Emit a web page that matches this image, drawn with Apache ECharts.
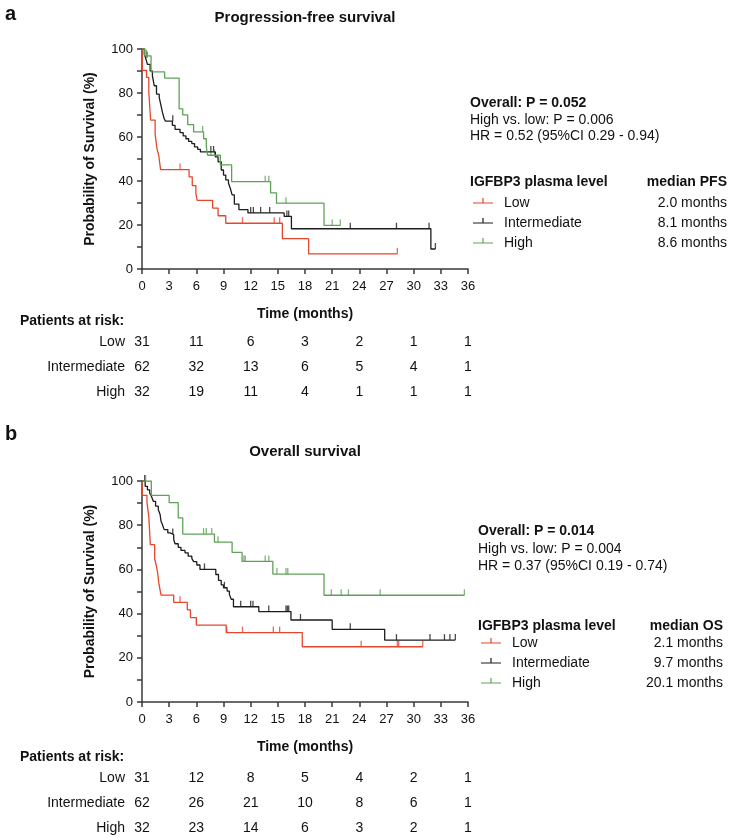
<!DOCTYPE html>
<html><head><meta charset="utf-8">
<script src="https://cdn.jsdelivr.net/npm/echarts@6/dist/echarts.min.js"></script>
<style>html,body{margin:0;padding:0;background:#fff}#c{width:729px;height:838px}</style>
</head><body><div id="c"></div>
<script>
// ---------- data ----------
const groups = ['Low', 'Intermediate', 'High'];
const riskMonths = [0, 6, 12, 18, 24, 30, 36];

// Panel a: progression-free survival, step points [month, survival %]
const pfsLow = [[0,100],[0.05,90.3],[0.5,87.1],[0.75,80.6],[0.95,67.7],[1.45,61.3],[1.65,54.8],[1.85,51.6],[2.05,45.2],[5.2,41.9],[5.55,37.9],[5.95,34.1],[6.1,31.2],[7.8,27.7],[8.4,24.2],[9.25,20.8],[15.5,13.8],[18.4,6.9],[28.2,6.9]];
const pfsLowCens = [[4.2,45.2],[11.1,20.8],[14.6,20.8],[15.2,20.8],[28.2,6.9]];
const pfsMid = [[0,100],[0.25,97.5],[0.4,96],[0.6,93],[0.9,90],[1.15,87.8],[1.35,83.3],[1.6,79.5],[1.9,78],[2.1,74.3],[2.25,71.3],[2.45,68.3],[2.6,67.2],[3.35,65.3],[3.65,63.5],[4.2,62],[4.55,60.5],[4.85,59.2],[5.15,58],[5.5,57],[5.8,55.5],[6.15,54.4],[6.45,53.2],[8.1,51],[8.4,48.7],[8.75,45],[9.0,42.7],[9.25,40.5],[9.55,39],[9.75,36.7],[9.95,33.7],[10.2,29.5],[10.7,27],[11.7,25.5],[15.7,23.9],[16.5,18.3],[31.9,9.1],[32.4,9.1]];
const pfsMidCens = [[0.3,97.5],[0.55,96],[3.4,67.2],[7.6,53.2],[7.9,53.2],[12.0,25.5],[12.3,25.5],[13.1,25.5],[14.1,25.5],[16.0,23.9],[16.2,23.9],[23.0,18.3],[28.1,18.3],[31.7,18.3],[32.4,9.1]];
const pfsHigh = [[0,100],[0.3,96.9],[1.0,89.6],[2.5,86.8],[4.1,72.8],[4.5,70.1],[5.05,65.6],[5.7,62.3],[6.8,59.2],[7.1,55.5],[7.25,51.7],[8.65,47.3],[9.9,39.7],[14.2,34.6],[14.85,29.9],[20.1,19.8],[21.9,19.8]];
const pfsHighCens = [[0.5,96.9],[6.7,62.3],[7.6,51.7],[8.0,51.7],[13.6,39.7],[14.0,39.7],[15.9,29.9],[21.0,19.8],[21.9,19.8]];

// Panel b: overall survival
const osLow = [[0,100],[0.05,93.5],[0.55,90.2],[0.75,84],[0.92,71.2],[1.4,64.7],[1.6,61.4],[1.73,58.3],[1.85,54],[1.96,51.5],[2.1,48.4],[3.5,45.1],[5.0,41.7],[5.35,38.2],[6.0,34.8],[9.3,31.4],[17.7,25.0],[31.0,25.0]];
const osLowCens = [[4.2,45.1],[9.35,31.4],[11.1,31.4],[14.5,31.4],[15.2,31.4],[24.2,25],[28.2,25],[28.35,25],[31.0,25]];
const osMid = [[0,100],[0.35,97.6],[0.6,96],[0.85,94.6],[1.05,93],[1.25,90.8],[1.5,88.6],[1.8,87],[2.0,84.8],[2.1,81.8],[2.25,80.3],[2.45,78],[2.85,76.5],[3.1,75.8],[3.5,73.5],[3.65,71.6],[4.0,70],[4.3,68.6],[4.75,67.5],[5.1,66],[5.5,65],[5.7,63.5],[6.05,62],[6.4,60],[8.15,57.7],[8.45,55],[8.75,53],[9.0,51.7],[9.4,50.2],[9.65,48.7],[9.85,46.5],[10.1,43.1],[12.9,40.9],[16.45,37.1],[21.0,32.9],[26.8,28.0],[34.6,28.0]];
const osMidCens = [[0.3,100],[3.4,75.8],[6.9,60],[9.1,51.7],[10.9,43.1],[12.0,43.1],[12.25,43.1],[14.0,40.9],[15.9,40.9],[16.05,40.9],[16.2,40.9],[17.5,37.1],[23.0,32.9],[28.1,28],[31.8,28],[33.4,28],[34.0,28],[34.6,28]];
const osHigh = [[0,100],[1.03,93.5],[3.0,90.2],[4.0,83.3],[4.5,76],[8.0,72.3],[9.95,67.7],[11.05,63.6],[14.45,57.9],[20.1,48.3],[35.6,48.3]];
const osHighCens = [[0.4,100],[6.8,76],[7.1,76],[7.7,76],[8.4,72.3],[11.25,63.6],[11.4,63.6],[13.6,63.6],[14.0,63.6],[14.9,57.9],[15.9,57.9],[16.1,57.9],[20.9,48.3],[22.0,48.3],[22.8,48.3],[26.3,48.3],[35.6,48.3]];

// Patients at risk
const riskPfsLow = [31, 11, 6, 3, 2, 1, 1];
const riskPfsMid = [62, 32, 13, 6, 5, 4, 1];
const riskPfsHigh = [32, 19, 11, 4, 1, 1, 1];
const riskOsLow = [31, 12, 8, 5, 4, 2, 1];
const riskOsMid = [62, 26, 21, 10, 8, 6, 1];
const riskOsHigh = [32, 23, 14, 6, 3, 2, 1];

// Annotation texts
const statsPfs = ['Overall: P = 0.052', 'High vs. low: P = 0.006', 'HR = 0.52 (95%CI 0.29 - 0.94)'];
const statsOs = ['Overall: P = 0.014', 'High vs. low: P = 0.004', 'HR = 0.37 (95%CI 0.19 - 0.74)'];
const medianPfs = ['2.0 months', '8.1 months', '8.6 months'];
const medianOs = ['2.1 months', '9.7 months', '20.1 months'];

// ---------- chart ----------
const FONT = '"Liberation Sans", Arial, sans-serif';
const COLORS = ['#e5472d', '#1c1c1c', '#5fa257'];
const AX = '#3a3a3a';
const chart = echarts.init(document.getElementById('c'), null, {renderer: 'canvas'});

function xAxis(gi) {
  return {
    type: 'value', gridIndex: gi, min: 0, max: 36, interval: 3,
    axisLine: {show: true, onZero: false, lineStyle: {color: AX, width: 1.5}},
    axisTick: {show: true, length: 5, lineStyle: {color: AX, width: 1.5}},
    axisLabel: {fontSize: 13, color: '#111', margin: 11, fontFamily: FONT},
    splitLine: {show: false},
    name: 'Time (months)', nameLocation: 'middle', nameGap: 38,
    nameTextStyle: {fontSize: 14, fontWeight: 'bold', color: '#111', fontFamily: FONT}
  };
}
function yAxis(gi) {
  return {
    type: 'value', gridIndex: gi, min: 0, max: 100, interval: 20,
    axisLine: {show: true, onZero: false, lineStyle: {color: AX, width: 1.5}},
    axisTick: {show: true, length: 5, lineStyle: {color: AX, width: 1.5}},
    minorTick: {show: true, splitNumber: 2, length: 5, lineStyle: {color: AX, width: 1.5}},
    axisLabel: {fontSize: 13, color: '#111', margin: 9, fontFamily: FONT},
    splitLine: {show: false},
    name: 'Probability of Survival (%)', nameLocation: 'middle', nameGap: 45,
    nameTextStyle: {fontSize: 14, fontWeight: 'bold', color: '#111', fontFamily: FONT}
  };
}
function km(name, steps, cens, color, gi) {
  return [
    {type: 'line', name: name, xAxisIndex: gi, yAxisIndex: gi, data: steps, step: 'end',
     showSymbol: false, symbol: 'none', silent: true,
     lineStyle: {color: color, width: 1.3}, itemStyle: {color: color}},
    {type: 'scatter', name: name, xAxisIndex: gi, yAxisIndex: gi, data: cens, silent: true,
     symbol: 'rect', symbolSize: [1.3, 6], symbolOffset: [0, -3],
     itemStyle: {color: color}}
  ];
}
const ICON = 'path://M0,0L0.01,0L0,0.01Z M19.99,14L20,14L20,13.99Z M0,6.4L20,6.4L20,7.6L0,7.6Z M9.4,2L10.6,2L10.6,6.4L9.4,6.4Z';
function legend(left, top) {
  return {
    orient: 'vertical', left: left, top: top, padding: 0,
    itemWidth: 20, itemHeight: 14, itemGap: 6, icon: ICON, selectedMode: false,
    itemStyle: {borderWidth: 0},
    textStyle: {fontSize: 14, color: '#111', fontFamily: FONT, padding: [0, 0, 0, 6]},
    data: groups
  };
}

const series = [].concat(
  km(groups[0], pfsLow, pfsLowCens, COLORS[0], 0),
  km(groups[1], pfsMid, pfsMidCens, COLORS[1], 0),
  km(groups[2], pfsHigh, pfsHighCens, COLORS[2], 0),
  km(groups[0], osLow, osLowCens, COLORS[0], 1),
  km(groups[1], osMid, osMidCens, COLORS[1], 1),
  km(groups[2], osHigh, osHighCens, COLORS[2], 1)
);

chart.setOption({
  animation: false,
  backgroundColor: '#fff',
  textStyle: {fontFamily: FONT},
  grid: [
    {left: 142, top: 49, width: 326, height: 220},
    {left: 142, top: 481, width: 326, height: 221}
  ],
  xAxis: [xAxis(0), xAxis(1)],
  yAxis: [yAxis(0), yAxis(1)],
  legend: [legend(473, 196), legend(481, 636)],
  series: series
});

// ---------- texts (positioned via the axis scale) ----------
const g = [];
function txt(s, x, y, opt) {
  opt = opt || {};
  const font = (opt.bold ? 'bold ' : '') + (opt.size || 14) + 'px ' + FONT;
  g.push({type: 'text', silent: true, style: {
    text: s, x: x, y: y, font: font, fill: '#111',
    align: opt.align || 'left', textAlign: opt.align || 'left',
    verticalAlign: 'middle', textVerticalAlign: 'middle'
  }});
}
txt('a', 5, 14, {bold: true, size: 20});
txt('b', 5, 434, {bold: true, size: 20});
txt('Progression-free survival', 305, 18, {bold: true, size: 15, align: 'center'});
txt('Overall survival', 305, 452, {bold: true, size: 15, align: 'center'});

// stats
[103, 120, 136].forEach((y, i) => txt(statsPfs[i], 470, y, {bold: i === 0}));
[531, 549, 566].forEach((y, i) => txt(statsOs[i], 478, y, {bold: i === 0}));
// legend headers and medians
txt('IGFBP3 plasma level', 470, 182, {bold: true});
txt('median PFS', 727, 182, {bold: true, align: 'right'});
[203, 223, 243].forEach((y, i) => txt(medianPfs[i], 727, y, {align: 'right'}));
txt('IGFBP3 plasma level', 478, 626, {bold: true});
txt('median OS', 723, 626, {bold: true, align: 'right'});
[643, 663, 683].forEach((y, i) => txt(medianOs[i], 723, y, {align: 'right'}));

// risk tables
function riskTable(gi, headerY, rowYs, rows) {
  txt('Patients at risk:', 20, headerY, {bold: true});
  rows.forEach((row, r) => {
    txt(groups[r], 125, rowYs[r], {align: 'right'});
    row.forEach((v, k) => {
      const x = chart.convertToPixel({xAxisIndex: gi}, riskMonths[k]);
      txt(String(v), x, rowYs[r], {align: 'center'});
    });
  });
}
riskTable(0, 321, [342, 367, 392], [riskPfsLow, riskPfsMid, riskPfsHigh]);
riskTable(1, 757, [778, 803, 828], [riskOsLow, riskOsMid, riskOsHigh]);

chart.setOption({graphic: g});
</script>
</body></html>
